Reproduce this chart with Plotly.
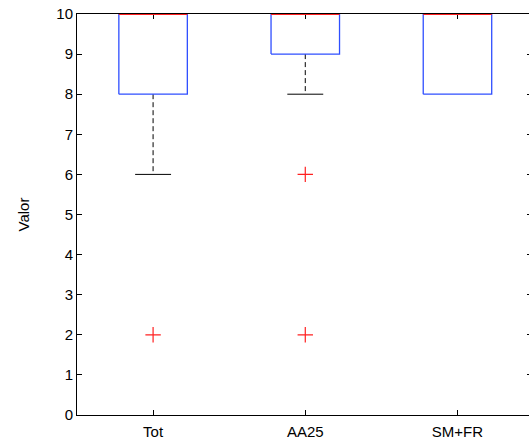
import plotly.graph_objects as go

categories = ["Tot", "AA25", "SM+FR"]
q1 = [8, 9, 8]
median = [10, 10, 10]
q3 = [10, 10, 10]
lower_whisker = [6, 8, 8]
upper_whisker = [10, 10, 10]
outliers = [[2], [6, 2], []]
y_ticks = list(range(0, 11))

BLUE = "#2f4fff"
RED = "#ff2020"
BOX_HALF = 0.225
CAP_HALF = 0.118

fig = go.Figure()

for i, cat in enumerate(categories):
    x = i + 1
    # lower whisker (dashed) + cap
    if lower_whisker[i] < q1[i]:
        fig.add_trace(go.Scatter(x=[x, x], y=[q1[i], lower_whisker[i]], mode="lines",
                                 line=dict(color="black", width=1, dash="5px,3px"),
                                 showlegend=False, hoverinfo="skip"))
        fig.add_trace(go.Scatter(x=[x - CAP_HALF, x + CAP_HALF], y=[lower_whisker[i]] * 2, mode="lines",
                                 line=dict(color="black", width=1),
                                 showlegend=False, hoverinfo="skip"))
    if upper_whisker[i] > q3[i]:
        fig.add_trace(go.Scatter(x=[x, x], y=[q3[i], upper_whisker[i]], mode="lines",
                                 line=dict(color="black", width=1, dash="5px,3px"),
                                 showlegend=False, hoverinfo="skip"))
        fig.add_trace(go.Scatter(x=[x - CAP_HALF, x + CAP_HALF], y=[upper_whisker[i]] * 2, mode="lines",
                                 line=dict(color="black", width=1),
                                 showlegend=False, hoverinfo="skip"))
    # box
    fig.add_trace(go.Scatter(x=[x - BOX_HALF, x + BOX_HALF, x + BOX_HALF, x - BOX_HALF, x - BOX_HALF],
                             y=[q1[i], q1[i], q3[i], q3[i], q1[i]], mode="lines",
                             line=dict(color=BLUE, width=1.3),
                             showlegend=False, hoverinfo="skip"))
    # median
    fig.add_trace(go.Scatter(x=[x - BOX_HALF, x + BOX_HALF], y=[median[i]] * 2, mode="lines",
                             line=dict(color=RED, width=2),
                             showlegend=False, hoverinfo="skip"))
    # outliers
    if outliers[i]:
        fig.add_trace(go.Scatter(x=[x] * len(outliers[i]), y=outliers[i], mode="markers",
                                 marker=dict(symbol="cross-thin", size=11,
                                             line=dict(color=RED, width=1.2)),
                                 showlegend=False, hoverinfo="skip"))

# invisible trace to enable right-side ticks
fig.add_trace(go.Scatter(x=[1], y=[0], yaxis="y2", mode="markers",
                         marker=dict(opacity=0), showlegend=False, hoverinfo="skip"))

font = dict(family="Liberation Sans, Arial, sans-serif", size=15, color="black")

fig.update_layout(
    width=529, height=446,
    margin=dict(l=77, r=0, t=14, b=31),
    paper_bgcolor="white", plot_bgcolor="white",
    font=font,
    xaxis=dict(range=[0.5, 3.47], tickmode="array", tickvals=[1, 2, 3], ticktext=categories,
               showline=True, linecolor="black", linewidth=1, mirror="ticks",
               ticks="inside", ticklen=5, tickcolor="black", showgrid=False, zeroline=False,
               layer="below traces", tickfont=font, ticklabelstandoff=3, automargin=False),
    yaxis=dict(range=[0, 10], tickmode="array", tickvals=y_ticks,
               showline=True, linecolor="black", linewidth=1,
               ticks="inside", ticklen=5, tickcolor="black", showgrid=False, zeroline=False,
               layer="below traces", tickfont=font, ticklabeloverflow="allow",
               automargin=False,
               title=dict(text="Valor", font=font, standoff=23)),
    yaxis2=dict(range=[0, 10], overlaying="y", side="right", tickmode="array", tickvals=y_ticks,
                ticks="inside", ticklen=2, tickcolor="black", showticklabels=False,
                showline=False, showgrid=False, zeroline=False, automargin=False),
)

fig.write_html("out.html", config={"displayModeBar": False},
               post_script="document.body.style.margin='0';")
